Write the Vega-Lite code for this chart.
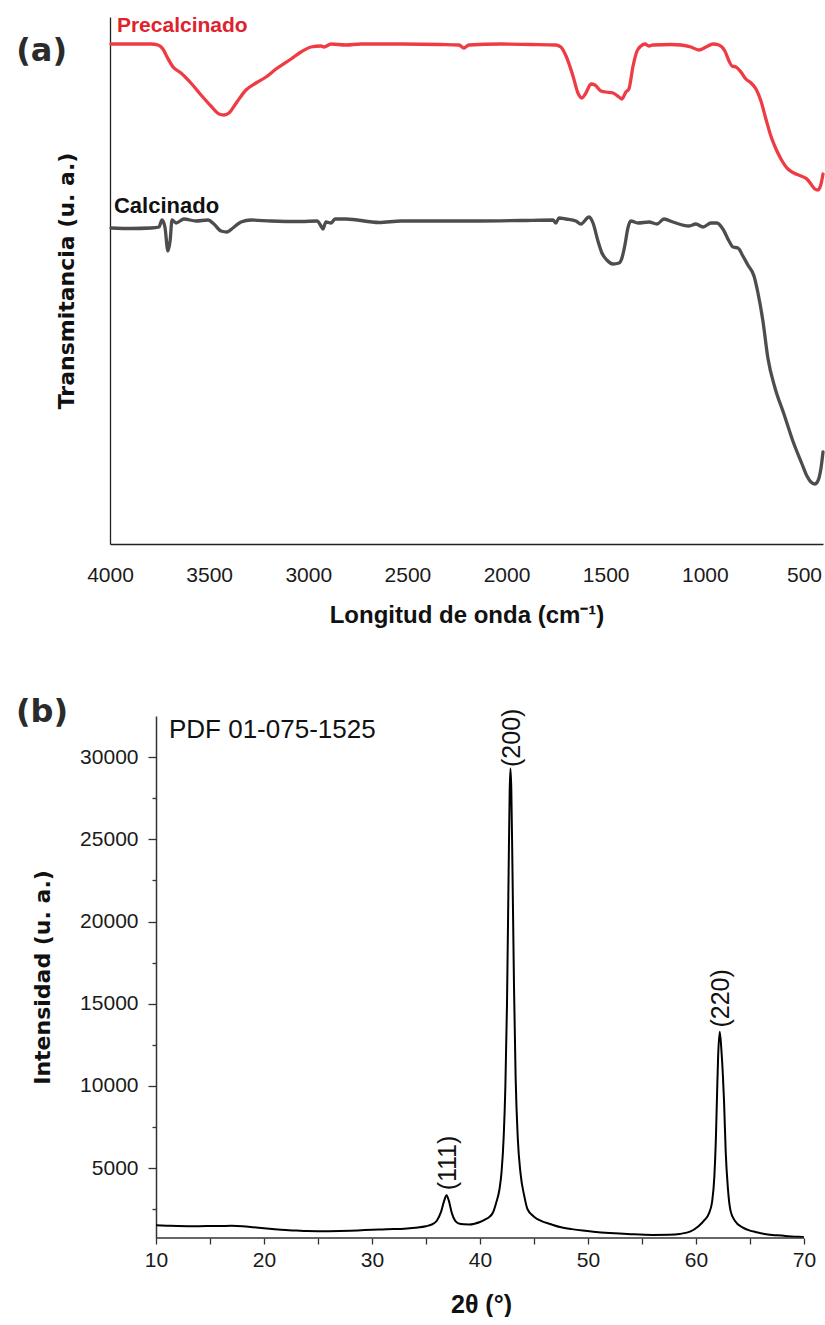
{
  "$schema": "https://vega.github.io/schema/vega-lite/v6.json",
  "background": "white",
  "padding": {"left": 15, "top": 14, "right": 0, "bottom": 0},
  "config": {"view": {"stroke": null}, "axis": {"grid": false}},
  "spacing": 68,
  "datasets": {
    "ftir": [
      {"wn": 3995, "T": 500, "s": "Precalcinado"}, {"wn": 3894, "T": 500, "s": "Precalcinado"}, {"wn": 3793, "T": 500, "s": "Precalcinado"},
      {"wn": 3758, "T": 499, "s": "Precalcinado"}, {"wn": 3733, "T": 495, "s": "Precalcinado"}, {"wn": 3712, "T": 487, "s": "Precalcinado"},
      {"wn": 3682, "T": 477, "s": "Precalcinado"}, {"wn": 3642, "T": 471, "s": "Precalcinado"}, {"wn": 3592, "T": 461, "s": "Precalcinado"},
      {"wn": 3541, "T": 449, "s": "Precalcinado"}, {"wn": 3491, "T": 438, "s": "Precalcinado"}, {"wn": 3450, "T": 430, "s": "Precalcinado"},
      {"wn": 3425, "T": 429, "s": "Precalcinado"}, {"wn": 3400, "T": 431, "s": "Precalcinado"}, {"wn": 3360, "T": 442, "s": "Precalcinado"},
      {"wn": 3314, "T": 454, "s": "Precalcinado"}, {"wn": 3264, "T": 461, "s": "Precalcinado"}, {"wn": 3213, "T": 467, "s": "Precalcinado"},
      {"wn": 3163, "T": 475, "s": "Precalcinado"}, {"wn": 3087, "T": 485, "s": "Precalcinado"}, {"wn": 3037, "T": 492, "s": "Precalcinado"},
      {"wn": 2986, "T": 497, "s": "Precalcinado"}, {"wn": 2936, "T": 498, "s": "Precalcinado"}, {"wn": 2921, "T": 497, "s": "Precalcinado"},
      {"wn": 2885, "T": 500, "s": "Precalcinado"}, {"wn": 2810, "T": 499, "s": "Precalcinado"}, {"wn": 2734, "T": 500, "s": "Precalcinado"},
      {"wn": 2532, "T": 500, "s": "Precalcinado"}, {"wn": 2331, "T": 499.5, "s": "Precalcinado"}, {"wn": 2240, "T": 499, "s": "Precalcinado"},
      {"wn": 2215, "T": 496, "s": "Precalcinado"}, {"wn": 2190, "T": 499, "s": "Precalcinado"}, {"wn": 2028, "T": 500, "s": "Precalcinado"},
      {"wn": 1877, "T": 499.5, "s": "Precalcinado"}, {"wn": 1751, "T": 499, "s": "Precalcinado"}, {"wn": 1726, "T": 497, "s": "Precalcinado"},
      {"wn": 1700, "T": 488, "s": "Precalcinado"}, {"wn": 1665, "T": 468, "s": "Precalcinado"}, {"wn": 1640, "T": 451, "s": "Precalcinado"},
      {"wn": 1620, "T": 446, "s": "Precalcinado"}, {"wn": 1600, "T": 451, "s": "Precalcinado"}, {"wn": 1574, "T": 460, "s": "Precalcinado"},
      {"wn": 1554, "T": 459, "s": "Precalcinado"}, {"wn": 1524, "T": 453, "s": "Precalcinado"}, {"wn": 1499, "T": 452, "s": "Precalcinado"},
      {"wn": 1463, "T": 451, "s": "Precalcinado"}, {"wn": 1433, "T": 447, "s": "Precalcinado"}, {"wn": 1418, "T": 445, "s": "Precalcinado"},
      {"wn": 1398, "T": 452, "s": "Precalcinado"}, {"wn": 1383, "T": 455, "s": "Precalcinado"}, {"wn": 1362, "T": 478, "s": "Precalcinado"},
      {"wn": 1342, "T": 493, "s": "Precalcinado"}, {"wn": 1322, "T": 498, "s": "Precalcinado"}, {"wn": 1302, "T": 500, "s": "Precalcinado"},
      {"wn": 1282, "T": 498, "s": "Precalcinado"}, {"wn": 1262, "T": 499, "s": "Precalcinado"}, {"wn": 1171, "T": 499.5, "s": "Precalcinado"},
      {"wn": 1120, "T": 499, "s": "Precalcinado"}, {"wn": 1070, "T": 497, "s": "Precalcinado"}, {"wn": 1030, "T": 494, "s": "Precalcinado"},
      {"wn": 994, "T": 497, "s": "Precalcinado"}, {"wn": 959, "T": 500, "s": "Precalcinado"}, {"wn": 929, "T": 499, "s": "Precalcinado"},
      {"wn": 899, "T": 493, "s": "Precalcinado"}, {"wn": 878, "T": 483, "s": "Precalcinado"}, {"wn": 863, "T": 478, "s": "Precalcinado"},
      {"wn": 843, "T": 477, "s": "Precalcinado"}, {"wn": 818, "T": 472, "s": "Precalcinado"}, {"wn": 793, "T": 465, "s": "Precalcinado"},
      {"wn": 767, "T": 461, "s": "Precalcinado"}, {"wn": 742, "T": 455, "s": "Precalcinado"}, {"wn": 717, "T": 443, "s": "Precalcinado"},
      {"wn": 692, "T": 425, "s": "Precalcinado"}, {"wn": 667, "T": 408, "s": "Precalcinado"}, {"wn": 641, "T": 395, "s": "Precalcinado"},
      {"wn": 616, "T": 385, "s": "Precalcinado"}, {"wn": 581, "T": 375, "s": "Precalcinado"}, {"wn": 551, "T": 371, "s": "Precalcinado"},
      {"wn": 515, "T": 368, "s": "Precalcinado"}, {"wn": 485, "T": 365, "s": "Precalcinado"}, {"wn": 465, "T": 360, "s": "Precalcinado"},
      {"wn": 445, "T": 355, "s": "Precalcinado"}, {"wn": 430, "T": 354, "s": "Precalcinado"}, {"wn": 414, "T": 360, "s": "Precalcinado"},
      {"wn": 404, "T": 370, "s": "Precalcinado"},
      {"wn": 3995, "T": 316, "s": "Calcinado"}, {"wn": 3894, "T": 315.5, "s": "Calcinado"}, {"wn": 3793, "T": 316, "s": "Calcinado"},
      {"wn": 3753, "T": 317, "s": "Calcinado"}, {"wn": 3738, "T": 324, "s": "Calcinado"}, {"wn": 3723, "T": 317, "s": "Calcinado"},
      {"wn": 3708, "T": 293, "s": "Calcinado"}, {"wn": 3697, "T": 303, "s": "Calcinado"}, {"wn": 3687, "T": 324, "s": "Calcinado"},
      {"wn": 3667, "T": 321, "s": "Calcinado"}, {"wn": 3627, "T": 325, "s": "Calcinado"}, {"wn": 3566, "T": 323, "s": "Calcinado"},
      {"wn": 3506, "T": 324, "s": "Calcinado"}, {"wn": 3476, "T": 320, "s": "Calcinado"}, {"wn": 3440, "T": 313, "s": "Calcinado"},
      {"wn": 3410, "T": 312, "s": "Calcinado"}, {"wn": 3380, "T": 316, "s": "Calcinado"}, {"wn": 3339, "T": 322, "s": "Calcinado"},
      {"wn": 3289, "T": 324, "s": "Calcinado"}, {"wn": 3188, "T": 323, "s": "Calcinado"}, {"wn": 3037, "T": 322.5, "s": "Calcinado"},
      {"wn": 2956, "T": 323, "s": "Calcinado"}, {"wn": 2936, "T": 318, "s": "Calcinado"}, {"wn": 2926, "T": 315, "s": "Calcinado"},
      {"wn": 2911, "T": 322, "s": "Calcinado"}, {"wn": 2885, "T": 321, "s": "Calcinado"}, {"wn": 2865, "T": 325, "s": "Calcinado"},
      {"wn": 2810, "T": 325, "s": "Calcinado"}, {"wn": 2643, "T": 321.5, "s": "Calcinado"}, {"wn": 2532, "T": 323, "s": "Calcinado"},
      {"wn": 2331, "T": 323, "s": "Calcinado"}, {"wn": 2129, "T": 323, "s": "Calcinado"}, {"wn": 1927, "T": 323.5, "s": "Calcinado"},
      {"wn": 1766, "T": 324, "s": "Calcinado"}, {"wn": 1751, "T": 321, "s": "Calcinado"}, {"wn": 1736, "T": 326, "s": "Calcinado"},
      {"wn": 1700, "T": 325, "s": "Calcinado"}, {"wn": 1650, "T": 323, "s": "Calcinado"}, {"wn": 1625, "T": 320, "s": "Calcinado"},
      {"wn": 1584, "T": 327, "s": "Calcinado"}, {"wn": 1564, "T": 321, "s": "Calcinado"}, {"wn": 1539, "T": 303, "s": "Calcinado"},
      {"wn": 1519, "T": 291, "s": "Calcinado"}, {"wn": 1494, "T": 284, "s": "Calcinado"}, {"wn": 1463, "T": 280, "s": "Calcinado"},
      {"wn": 1433, "T": 281, "s": "Calcinado"}, {"wn": 1418, "T": 286, "s": "Calcinado"}, {"wn": 1403, "T": 299, "s": "Calcinado"},
      {"wn": 1388, "T": 316, "s": "Calcinado"}, {"wn": 1373, "T": 323, "s": "Calcinado"}, {"wn": 1337, "T": 321, "s": "Calcinado"},
      {"wn": 1282, "T": 322, "s": "Calcinado"}, {"wn": 1241, "T": 320, "s": "Calcinado"}, {"wn": 1206, "T": 325, "s": "Calcinado"},
      {"wn": 1161, "T": 322, "s": "Calcinado"}, {"wn": 1080, "T": 318, "s": "Calcinado"}, {"wn": 1045, "T": 320, "s": "Calcinado"},
      {"wn": 1009, "T": 317, "s": "Calcinado"}, {"wn": 969, "T": 321, "s": "Calcinado"}, {"wn": 939, "T": 321, "s": "Calcinado"},
      {"wn": 909, "T": 315, "s": "Calcinado"}, {"wn": 878, "T": 303, "s": "Calcinado"}, {"wn": 858, "T": 297, "s": "Calcinado"},
      {"wn": 833, "T": 296, "s": "Calcinado"}, {"wn": 808, "T": 288, "s": "Calcinado"}, {"wn": 783, "T": 279, "s": "Calcinado"},
      {"wn": 752, "T": 268, "s": "Calcinado"}, {"wn": 732, "T": 251, "s": "Calcinado"}, {"wn": 707, "T": 223, "s": "Calcinado"},
      {"wn": 682, "T": 186, "s": "Calcinado"}, {"wn": 646, "T": 156, "s": "Calcinado"}, {"wn": 601, "T": 130, "s": "Calcinado"},
      {"wn": 556, "T": 103, "s": "Calcinado"}, {"wn": 510, "T": 80, "s": "Calcinado"}, {"wn": 485, "T": 68, "s": "Calcinado"},
      {"wn": 465, "T": 62, "s": "Calcinado"}, {"wn": 445, "T": 60, "s": "Calcinado"}, {"wn": 430, "T": 63, "s": "Calcinado"},
      {"wn": 414, "T": 76, "s": "Calcinado"}, {"wn": 404, "T": 92, "s": "Calcinado"}
    ],
    "ftirLabels": [
      {"wn": 3965, "T": 512, "label": "Precalcinado"},
      {"wn": 3980, "T": 331, "label": "Calcinado"},
      {"wn": 4345, "T": 493, "label": "(a)"}
    ],
    "xrd": [
      {"t": 10, "I": 1520}, {"t": 11, "I": 1500}, {"t": 12, "I": 1480}, {"t": 13, "I": 1470}, {"t": 14, "I": 1470},
      {"t": 15, "I": 1475}, {"t": 16, "I": 1480}, {"t": 17, "I": 1490}, {"t": 18, "I": 1470}, {"t": 19, "I": 1410},
      {"t": 20, "I": 1340}, {"t": 21, "I": 1280}, {"t": 22, "I": 1230}, {"t": 23, "I": 1200}, {"t": 24, "I": 1170},
      {"t": 25, "I": 1160}, {"t": 26, "I": 1160}, {"t": 27, "I": 1170}, {"t": 28, "I": 1190}, {"t": 29, "I": 1220},
      {"t": 30, "I": 1250}, {"t": 31, "I": 1270}, {"t": 32, "I": 1290}, {"t": 33, "I": 1320}, {"t": 34, "I": 1380},
      {"t": 35, "I": 1470}, {"t": 35.5, "I": 1560}, {"t": 36.0, "I": 1800}, {"t": 36.4, "I": 2350}, {"t": 36.7, "I": 3050},
      {"t": 36.9, "I": 3350}, {"t": 37.1, "I": 3050}, {"t": 37.4, "I": 2250}, {"t": 37.7, "I": 1800}, {"t": 38.0, "I": 1640},
      {"t": 38.5, "I": 1580}, {"t": 39.0, "I": 1570}, {"t": 39.5, "I": 1620}, {"t": 40.0, "I": 1720}, {"t": 40.5, "I": 1880},
      {"t": 40.8, "I": 2000}, {"t": 41.2, "I": 2300}, {"t": 41.5, "I": 2900}, {"t": 41.8, "I": 3700}, {"t": 42.0, "I": 4800},
      {"t": 42.2, "I": 7000}, {"t": 42.35, "I": 10000}, {"t": 42.5, "I": 15000}, {"t": 42.65, "I": 23000}, {"t": 42.75, "I": 28000},
      {"t": 42.82, "I": 29300}, {"t": 42.9, "I": 28000}, {"t": 43.0, "I": 23500}, {"t": 43.15, "I": 16000}, {"t": 43.3, "I": 10500},
      {"t": 43.5, "I": 6800}, {"t": 43.75, "I": 4700}, {"t": 44.1, "I": 3300}, {"t": 44.4, "I": 2500}, {"t": 45.0, "I": 2050},
      {"t": 45.7, "I": 1780}, {"t": 46.5, "I": 1600}, {"t": 47.5, "I": 1400}, {"t": 48.5, "I": 1290}, {"t": 49.5, "I": 1200},
      {"t": 50.5, "I": 1130}, {"t": 52, "I": 1050}, {"t": 54, "I": 980}, {"t": 56, "I": 940}, {"t": 57.5, "I": 950},
      {"t": 58.5, "I": 1000}, {"t": 59.5, "I": 1150}, {"t": 60.2, "I": 1450}, {"t": 60.8, "I": 1850}, {"t": 61.2, "I": 2250},
      {"t": 61.5, "I": 3000}, {"t": 61.7, "I": 4500}, {"t": 61.85, "I": 7000}, {"t": 61.95, "I": 9500}, {"t": 62.05, "I": 11800},
      {"t": 62.2, "I": 13300}, {"t": 62.35, "I": 12200}, {"t": 62.5, "I": 10500}, {"t": 62.6, "I": 9000}, {"t": 62.75, "I": 6000},
      {"t": 62.95, "I": 3800}, {"t": 63.2, "I": 2400}, {"t": 63.6, "I": 1800}, {"t": 64.3, "I": 1400}, {"t": 65.0, "I": 1200},
      {"t": 65.5, "I": 1120}, {"t": 66.5, "I": 980}, {"t": 67.5, "I": 910}, {"t": 68.5, "I": 860}, {"t": 69.5, "I": 820},
      {"t": 70, "I": 800}
    ],
    "xrdLabels": [
      {"t": 11.2, "I": 31160, "label": "PDF 01-075-1525", "kind": "pdf"},
      {"t": -0.55, "I": 32745, "label": "(b)", "kind": "panel"},
      {"t": 37.05, "I": 3650, "label": "(111)", "kind": "peak"},
      {"t": 43.0, "I": 29400, "label": "(200)", "kind": "peak"},
      {"t": 62.35, "I": 13550, "label": "(220)", "kind": "peak"}
    ]
  },
  "vconcat": [
    {
      "width": 713,
      "height": 527,
      "layer": [
        {
          "data": {"name": "ftir"},
          "mark": {"type": "line", "strokeWidth": 3.3, "interpolate": "monotone", "strokeJoin": "round", "strokeCap": "round"},
          "encoding": {
            "x": {
              "field": "wn", "type": "quantitative",
              "scale": {"domain": [4000, 404], "nice": false, "zero": false},
              "axis": {
                "values": [4000, 3500, 3000, 2500, 2000, 1500, 1000, 500],
                "format": "d", "ticks": false, "domainColor": "#222", "domainWidth": 1.3,
                "labelFont": "Liberation Sans", "labelFontSize": 21, "labelColor": "#1a1a1a",
                "labelPadding": 20, "labelFlush": false, "labelOverlap": false,
                "title": "Longitud de onda (cm⁻¹)", "titleFont": "Liberation Sans", "titleFontSize": 24,
                "titleFontWeight": "bold", "titleColor": "#111", "titlePadding": 18
              }
            },
            "y": {
              "field": "T", "type": "quantitative",
              "scale": {"domain": [0, 527], "nice": false, "zero": false},
              "axis": {
                "ticks": false, "labels": false, "domainColor": "#222", "domainWidth": 1.3,
                "title": "Transmitancia (u. a.)", "titleFont": "DejaVu Sans", "titleFontSize": 22,
                "titleFontWeight": "bold", "titleColor": "#111", "titlePadding": 32
              }
            },
            "color": {
              "field": "s", "type": "nominal",
              "scale": {"domain": ["Precalcinado", "Calcinado"], "range": ["#ef3b43", "#4d4d4d"]},
              "legend": null
            }
          }
        },
        {
          "data": {"name": "ftirLabels"},
          "transform": [{"filter": "datum.label === 'Precalcinado'"}],
          "mark": {"type": "text", "align": "left", "baseline": "alphabetic", "font": "Liberation Sans", "fontWeight": "bold", "fontSize": 21, "color": "#e0222c"},
          "encoding": {
            "x": {"field": "wn", "type": "quantitative"},
            "y": {"field": "T", "type": "quantitative"},
            "text": {"field": "label"}
          }
        },
        {
          "data": {"name": "ftirLabels"},
          "transform": [{"filter": "datum.label === 'Calcinado'"}],
          "mark": {"type": "text", "align": "left", "baseline": "alphabetic", "font": "Liberation Sans", "fontWeight": "bold", "fontSize": 22, "color": "#111111"},
          "encoding": {
            "x": {"field": "wn", "type": "quantitative"},
            "y": {"field": "T", "type": "quantitative"},
            "text": {"field": "label"}
          }
        },
        {
          "data": {"name": "ftirLabels"},
          "transform": [{"filter": "datum.label === '(a)'"}],
          "mark": {"type": "text", "align": "center", "baseline": "middle", "font": "DejaVu Sans", "fontWeight": "bold", "fontSize": 32, "color": "#2b2b2b"},
          "encoding": {
            "x": {"field": "wn", "type": "quantitative"},
            "y": {"field": "T", "type": "quantitative"},
            "text": {"field": "label"}
          }
        }
      ]
    },
    {
      "width": 694,
      "height": 522,
      "layer": [
        {
          "data": {"name": "xrd"},
          "mark": {"type": "line", "color": "#000000", "strokeWidth": 2, "interpolate": "monotone"},
          "encoding": {
            "x": {
              "field": "t", "type": "quantitative",
              "scale": {"domain": [5.741, 70], "nice": false, "zero": false},
              "axis": {
                "values": [10, 15, 20, 25, 30, 35, 40, 45, 50, 55, 60, 65, 70],
                "format": "d", "labelExpr": "datum.value % 10 === 0 ? datum.label : ''",
                "domain": false,
                "tickSize": 6, "tickColor": "#333", "tickWidth": 1.3,
                "labelFont": "Liberation Sans", "labelFontSize": 21, "labelColor": "#1a1a1a",
                "labelPadding": 5, "labelFlush": false, "labelOverlap": false,
                "title": "2θ (°)", "titleFont": "Liberation Sans", "titleFontSize": 25,
                "titleFontWeight": "bold", "titleColor": "#111", "titlePadding": 22, "titleX": 371
              }
            },
            "y": {
              "field": "I", "type": "quantitative",
              "scale": {"domain": [750, 32500], "nice": false, "zero": false},
              "axis": {
                "offset": -46,
                "values": [2500, 5000, 7500, 10000, 12500, 15000, 17500, 20000, 22500, 25000, 27500, 30000],
                "format": "d", "labelExpr": "datum.value % 5000 === 0 ? datum.label : ''",
                "tickSize": {"condition": {"test": "datum.value % 5000 === 0", "value": 8}, "value": 4},
                "tickColor": "#333", "tickWidth": 1.3, "domainColor": "#333", "domainWidth": 1.5,
                "labelFont": "Liberation Sans", "labelFontSize": 21, "labelColor": "#1a1a1a",
                "labelPadding": 10, "labelFlush": false, "labelOverlap": false,
                "title": "Intensidad (u. a.)", "titleFont": "DejaVu Sans", "titleFontSize": 22,
                "titleFontWeight": "bold", "titleColor": "#111", "titlePadding": 25
              }
            }
          }
        },
        {
          "data": {"name": "xrd"},
          "mark": {"type": "rule", "color": "#333333", "strokeWidth": 1.5},
          "encoding": {
            "x": {"aggregate": "min", "field": "t", "type": "quantitative"},
            "x2": {"aggregate": "max", "field": "t"},
            "y": {"datum": 750, "type": "quantitative"}
          }
        },
        {
          "data": {"name": "xrdLabels"},
          "transform": [{"filter": "datum.kind === 'pdf'"}],
          "mark": {"type": "text", "align": "left", "baseline": "alphabetic", "font": "Liberation Sans", "fontSize": 26, "color": "#111111"},
          "encoding": {
            "x": {"field": "t", "type": "quantitative"},
            "y": {"field": "I", "type": "quantitative"},
            "text": {"field": "label"}
          }
        },
        {
          "data": {"name": "xrdLabels"},
          "transform": [{"filter": "datum.kind === 'panel'"}],
          "mark": {"type": "text", "align": "center", "baseline": "middle", "font": "DejaVu Sans", "fontWeight": "bold", "fontSize": 32, "color": "#2b2b2b"},
          "encoding": {
            "x": {"field": "t", "type": "quantitative"},
            "y": {"field": "I", "type": "quantitative"},
            "text": {"field": "label"}
          }
        },
        {
          "data": {"name": "xrdLabels"},
          "transform": [{"filter": "datum.kind === 'peak'"}],
          "mark": {"type": "text", "align": "left", "baseline": "middle", "angle": 270, "font": "Liberation Sans", "fontSize": 25, "color": "#111111"},
          "encoding": {
            "x": {"field": "t", "type": "quantitative"},
            "y": {"field": "I", "type": "quantitative"},
            "text": {"field": "label"}
          }
        }
      ]
    }
  ]
}
